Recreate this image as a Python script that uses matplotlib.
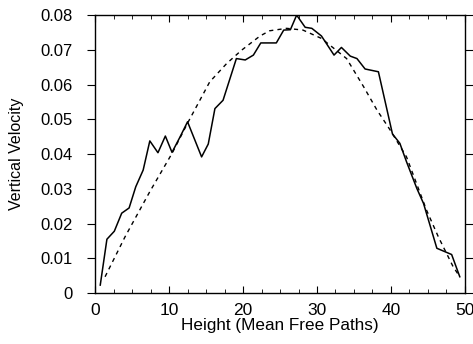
import numpy as np
import matplotlib.pyplot as plt
from matplotlib.ticker import MultipleLocator

plt.rcParams['font.family'] = ['Liberation Sans', 'DejaVu Sans']

# simulation (solid)
sim_x = [0.7, 1.6, 2.6, 3.6, 4.6, 5.5, 6.5, 7.4, 8.5, 9.5, 10.4, 11.5, 12.5,
         14.4, 15.3, 16.2, 17.3, 19.1, 20.3, 21.4, 22.4, 24.5, 25.5, 26.4, 27.25,
         28.4, 29.3, 30.6, 32.3, 33.3, 34.5, 35.4, 36.5, 38.3, 40.2, 41.2, 42.1,
         43.5, 44.4, 46.2, 48.2, 49.3]
sim_y = [0.0023, 0.0155, 0.0178, 0.0230, 0.0245, 0.0306, 0.0354, 0.0438, 0.0404,
         0.0452, 0.0405, 0.0450, 0.0493, 0.0392, 0.0429, 0.0531, 0.0555, 0.0675,
         0.0671, 0.0685, 0.0720, 0.0720, 0.0757, 0.0758, 0.0800, 0.0765, 0.0762,
         0.0740, 0.0685, 0.0707, 0.0682, 0.0675, 0.0645, 0.0637, 0.0458, 0.0431,
         0.0378, 0.0301, 0.0258, 0.0129, 0.0111, 0.0047]

# theory (dashed)
th_x = [1.35, 4.05, 7.4, 10.4, 12.6, 15.5, 17.8, 19.8, 22.3, 23.6, 25.9, 28.1,
        30.6, 34.0, 36.3, 38.1, 39.9, 42.1, 44.8, 46.4, 48.4, 49.3]
th_y = [0.0047, 0.0162, 0.0292, 0.0402, 0.0493, 0.0608, 0.0661, 0.0699, 0.0740,
        0.0755, 0.0762, 0.0757, 0.0733, 0.0675, 0.0594, 0.0527, 0.0469, 0.0392,
        0.0239, 0.0162, 0.0076, 0.0047]

yticks = [0, 0.01, 0.02, 0.03, 0.04, 0.05, 0.06, 0.07, 0.08]
ytick_labels = ['0', '0.01', '0.02', '0.03', '0.04', '0.05', '0.06', '0.07', '0.08']

fig = plt.figure(figsize=(4.73, 3.44), dpi=100)
ax = fig.add_axes([0.201, 0.148, 0.782, 0.808])
ax.plot(sim_x, sim_y, color='black', linewidth=1.1)
ax.plot(th_x, th_y, color='black', linewidth=1.0, linestyle=(0, (3, 3)))

ax.set_xlim(0, 50)
ax.set_ylim(0, 0.08)
ax.xaxis.set_major_locator(MultipleLocator(10))
ax.xaxis.set_minor_locator(MultipleLocator(2.5))
ax.set_yticks(yticks)
ax.set_yticklabels(ytick_labels)
ax.tick_params(axis='x', which='both', direction='in', top=True, labelsize=12.5, pad=7)
ax.tick_params(axis='x', which='major', length=5)
ax.tick_params(axis='x', which='minor', length=3)
ax.tick_params(axis='y', which='both', direction='out', right=True, labelsize=12, length=6, pad=10)
ax.set_xlabel('Height (Mean Free Paths)', fontsize=12.3)
ax.xaxis.set_label_coords(0.5, -0.115)
ax.xaxis.label.set_va('center')
ax.set_ylabel('Vertical Velocity', fontsize=11.5)
ax.yaxis.set_label_coords(-0.213, 0.5)
ax.yaxis.label.set_va('center')
for s in ax.spines.values():
    s.set_linewidth(1.0)

fig.savefig('out.png', dpi=100)
